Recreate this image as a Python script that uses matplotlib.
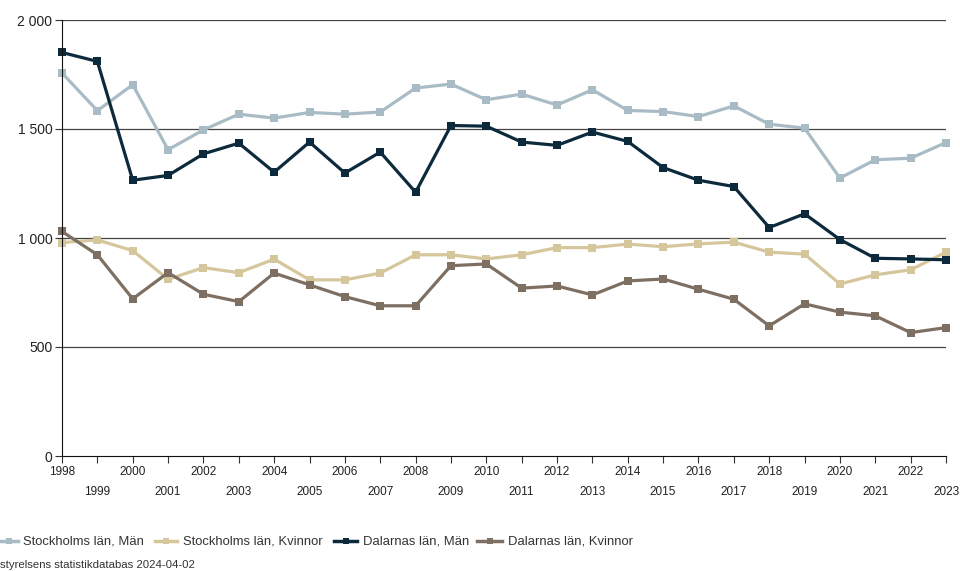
import matplotlib
matplotlib.use("Agg")
import matplotlib.pyplot as plt
from matplotlib.lines import Line2D
import numpy as np

plt.rcParams['font.family'] = ['Liberation Sans', 'DejaVu Sans']

years = list(range(1998, 2024))

sthlm_man = [1757, 1584, 1703, 1405, 1496, 1568, 1550, 1576, 1568, 1578,
             1688, 1706, 1634, 1660, 1610, 1680, 1585, 1580, 1557, 1606,
             1522, 1504, 1275, 1359, 1366, 1438]
sthlm_kvinnor = [979, 991, 942, 811, 864, 841, 903, 808, 808, 839,
                 923, 923, 904, 923, 956, 956, 972, 960, 973, 981,
                 935, 926, 789, 831, 854, 935]
dalarna_man = [1851, 1810, 1265, 1287, 1386, 1435, 1302, 1440, 1298, 1394,
               1210, 1516, 1513, 1440, 1425, 1486, 1443, 1323, 1265, 1236,
               1048, 1111, 993, 907, 904, 900]
dalarna_kvinnor = [1030, 923, 721, 841, 742, 708, 839, 785, 731, 689,
                   689, 873, 881, 770, 780, 739, 803, 812, 765, 719,
                   597, 698, 660, 643, 566, 589]

series_names = ["Stockholms län, Män", "Stockholms län, Kvinnor",
                "Dalarnas län, Män", "Dalarnas län, Kvinnor"]
colors = ["#a9bcc6", "#d5c69c", "#0d2a3d", "#7e6f63"]
series = [sthlm_man, sthlm_kvinnor, dalarna_man, dalarna_kvinnor]

fig = plt.figure(figsize=(9.6, 5.71), dpi=100)
ax = fig.add_axes([62/960, 115/571, (946-62)/960, (456-20)/571])

for vals, c in zip(series, colors):
    ax.plot(years, vals, color=c, lw=2.3, marker="s", markersize=5.5,
            markeredgewidth=0, clip_on=False)

ax.set_xlim(1998, 2023)
ax.set_ylim(0, 2000)
ax.set_yticks([0, 500, 1000, 1500, 2000])
ax.set_yticklabels(["0", "500", "1 000", "1 500", "2 000"], fontsize=10, color="#222222")
ax.set_xticks(years)
ax.set_xticklabels([str(y) if y % 2 == 0 else "\n" + str(y) for y in years],
                   fontsize=8.5, color="#222222", linespacing=1.9)
ax.tick_params(axis="x", length=5, width=0.8, color="#333333", pad=2)
ax.tick_params(axis="y", length=5, width=0.8, color="#333333", pad=2)

for yv in [500, 1000, 1500, 2000]:
    ax.axhline(yv, color="#444444", lw=0.9, zorder=0)
for s in ["top", "right"]:
    ax.spines[s].set_visible(False)
ax.spines["left"].set_color("#111111")
ax.spines["bottom"].set_color("#111111")

# legend drawn by hand
leg_x = [(0, 18, 23), (155, 177, 183), (334, 357, 363), (477, 502, 508)]
leg_y = 1 - 541/571
for (x0, x1, xt), name, c in zip(leg_x, series_names, colors):
    fig.add_artist(Line2D([x0/960, x1/960], [leg_y, leg_y], color=c, lw=2.5,
                          transform=fig.transFigure))
    fig.add_artist(Line2D([(x0+x1)/2/960], [leg_y], color=c, marker="s",
                          markersize=4, markeredgewidth=0, transform=fig.transFigure))
    fig.text(xt/960, leg_y, name, fontsize=9.4, color="#333333", va="center", ha="left")

fig.text(0, 1 - 565/571, "styrelsens statistikdatabas 2024-04-02", fontsize=8.2,
         color="#333333", va="center", ha="left")

fig.savefig("out.png", dpi=100)
